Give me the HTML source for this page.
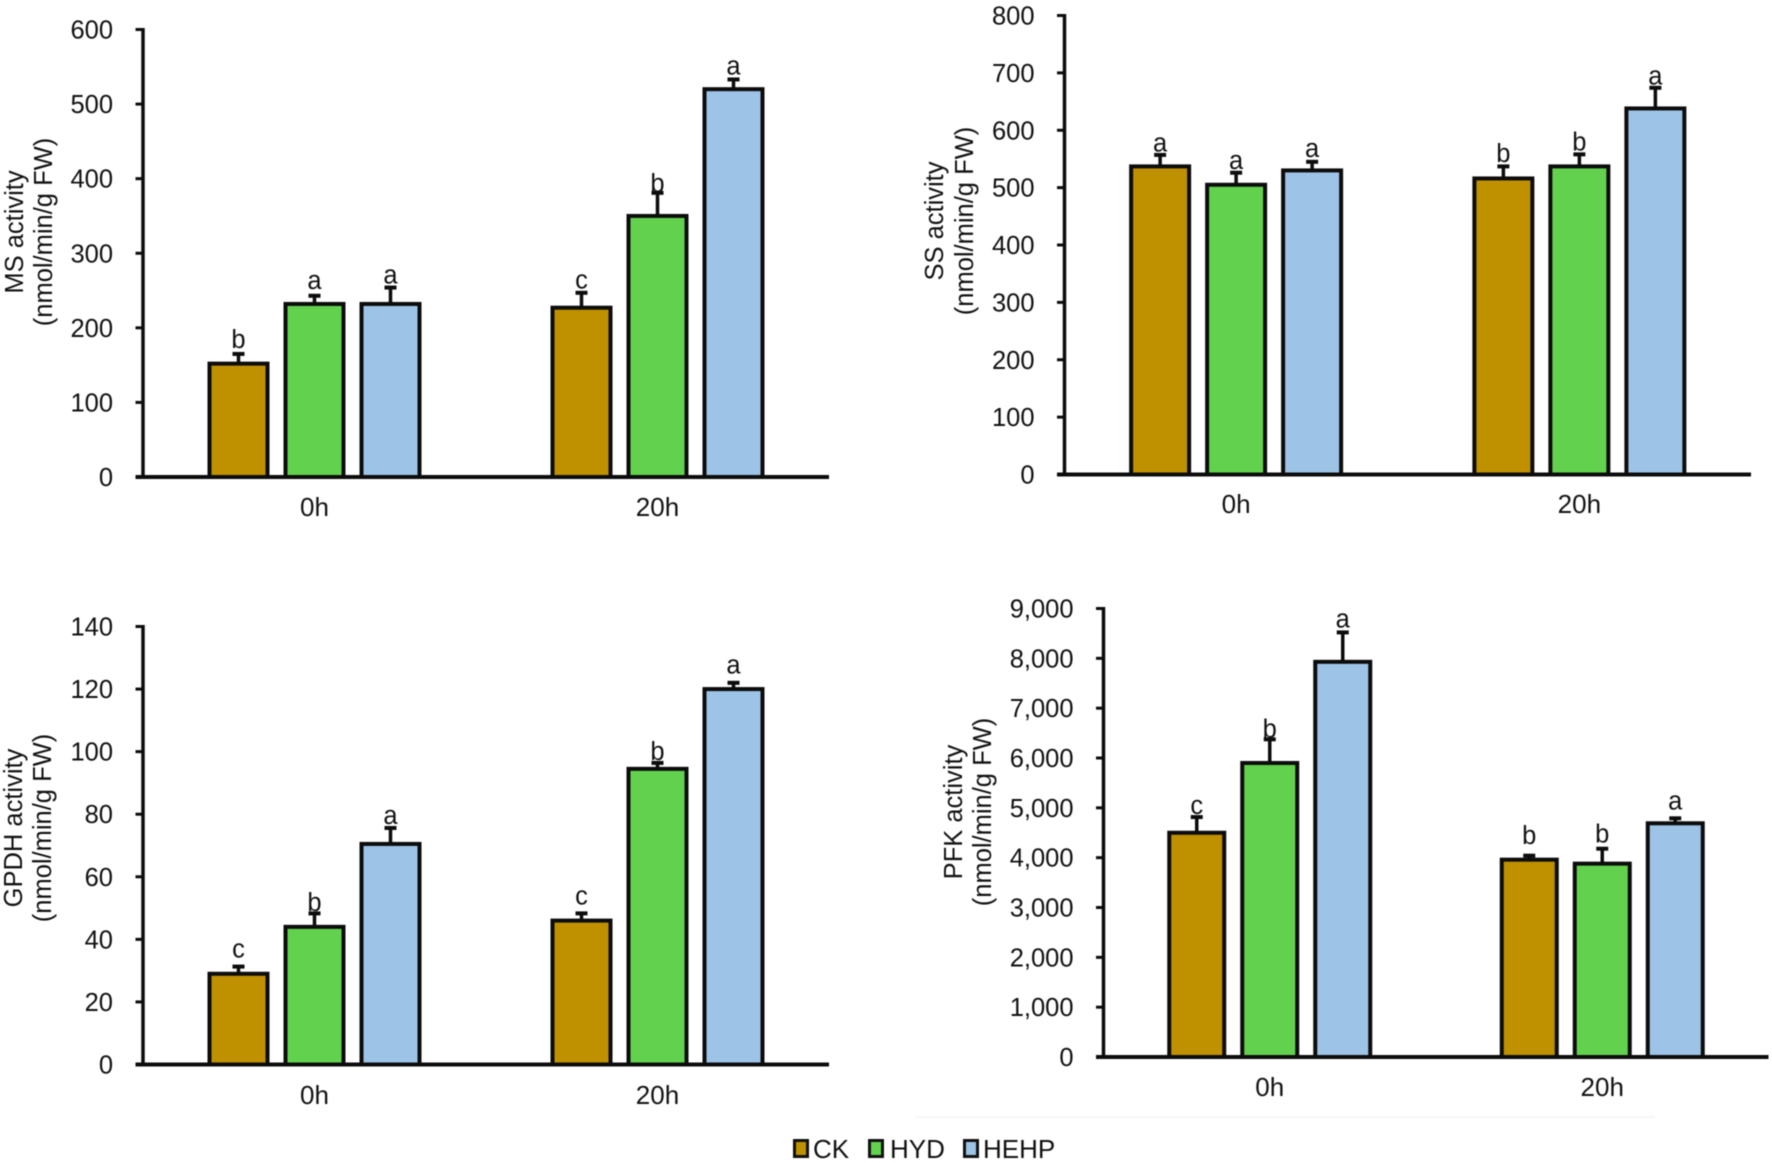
<!DOCTYPE html>
<html lang="en">
<head>
<meta charset="utf-8">
<title>Enzyme activity bar charts</title>
<style>
html,body{margin:0;padding:0;background:#fff;}
svg{display:block;filter:blur(0.4px);}
text{font-family:"Liberation Sans",Arial,sans-serif;fill:#111;}
</style>
</head>
<body>
<svg id="chart" width="1772" height="1163" viewBox="0 0 1772 1163" xmlns="http://www.w3.org/2000/svg">
  <rect x="0" y="0" width="1772" height="1163" fill="#fff"/>
  <line x1="915" x2="1655" y1="1117" y2="1117" stroke="#f6f6f6" stroke-width="2"/>
  <g id="panels"></g>
  <g>
    <g>
      <rect x="794.5" y="1140.5" width="13" height="16" fill="#BF9000" stroke="#111" stroke-width="3"/>
      <text x="813" y="1158" font-size="26">CK</text>
    </g>
    <g>
      <rect x="869.5" y="1140.5" width="13" height="16" fill="#62D24E" stroke="#111" stroke-width="3"/>
      <text x="890" y="1158" font-size="26">HYD</text>
    </g>
    <g>
      <rect x="964.5" y="1140.5" width="13" height="16" fill="#9DC3E6" stroke="#111" stroke-width="3"/>
      <text x="983" y="1158" font-size="26">HEHP</text>
    </g>
  </g>
</svg>
<script>
// Shared categories and series
const categories = ['0h', '20h'];
const seriesNames = ['CK', 'HYD', 'HEHP'];

// MS panel
const msTicks = [0, 100, 200, 300, 400, 500, 600];
const msMeans = [[152, 232, 232], [227, 350, 520]];
const msErrors = [[13, 11, 22], [20, 31, 13]];
const msLetters = [['b', 'a', 'a'], ['c', 'b', 'a']];

// SS panel
const ssTicks = [0, 100, 200, 300, 400, 500, 600, 700, 800];
const ssMeans = [[537, 505, 530], [516, 537, 638]];
const ssErrors = [[20, 21, 15], [21, 21, 36]];
const ssLetters = [['a', 'a', 'a'], ['b', 'b', 'a']];

// GPDH panel
const gpdhTicks = [0, 20, 40, 60, 80, 100, 120, 140];
const gpdhMeans = [[29, 44, 70.5], [46, 94.5, 120]];
const gpdhErrors = [[2.3, 4.3, 5.1], [2.3, 1.9, 2]];
const gpdhLetters = [['c', 'b', 'a'], ['c', 'b', 'a']];

// PFK panel
const pfkTicks = [0, 1000, 2000, 3000, 4000, 5000, 6000, 7000, 8000, 9000];
const pfkMeans = [[4500, 5900, 7930], [3960, 3880, 4690]];
const pfkErrors = [[315, 475, 590], [80, 300, 100]];
const pfkLetters = [['c', 'b', 'a'], ['b', 'b', 'a']];

// Layout (pixels), separate from the data above
const seriesFill = ['#BF9000', '#62D24E', '#9DC3E6'];
const INK = '#0c0c0c';
const panels = [
  {title: 'MS activity', ticks: msTicks, means: msMeans, errors: msErrors, letters: msLetters,
   left: 143, right: 829, y0: 477, yTop: 29.5, step: 76, barW: 58, catY: 516,
   titleX: [23, 52], titleY: 232, gaps: [[6, 7, 4], [4.5, 1, 5]]},
  {title: 'SS activity', ticks: ssTicks, means: ssMeans, errors: ssErrors, letters: ssLetters,
   left: 1064.5, right: 1751, y0: 474.5, yTop: 15.5, step: 76, barW: 58, catY: 513,
   titleX: [943, 973], titleY: 221, gaps: [[3.5, 3.5, 5], [4.5, 4, 3.5]]},
  {title: 'GPDH activity', ticks: gpdhTicks, means: gpdhMeans, errors: gpdhErrors, letters: gpdhLetters,
   left: 143, right: 829, y0: 1064.5, yTop: 626.5, step: 76, barW: 58, catY: 1104,
   titleX: [22, 51], titleY: 828, gaps: [[9, 2.5, 4], [9, 3, 9.5]]},
  {title: 'PFK activity', ticks: pfkTicks, means: pfkMeans, errors: pfkErrors, letters: pfkLetters,
   left: 1103.5, right: 1768.5, y0: 1057, yTop: 608.5, step: 73, barW: 55, catY: 1096,
   titleX: [962, 991], titleY: 812, gaps: [[3, 2, 5], [11.5, 6, 9]]}
];

const SVG_NS = 'http://www.w3.org/2000/svg';
function mk(tag, attrs, parent, txt) {
  const el = document.createElementNS(SVG_NS, tag);
  for (const k in attrs) el.setAttribute(k, attrs[k]);
  if (txt !== undefined) el.textContent = txt;
  parent.appendChild(el);
  return el;
}
function fmt(v) { return String(v).replace(/\B(?=(\d{3})+(?!\d))/g, ','); }

const root = document.getElementById('panels');
panels.forEach(function (p) {
  const maxTick = p.ticks[p.ticks.length - 1];
  const yScale = function (v) { return p.y0 - (v / maxTick) * (p.y0 - p.yTop); };
  const catW = (p.right - p.left) / categories.length;
  const catX = function (i) { return p.left + catW * (i + 0.5); };
  const barX = function (i, s) { return catX(i) + (s - (seriesNames.length - 1) / 2) * p.step; };

  const g = mk('g', {}, root);
  
  

  // y-axis title
  const t1 = mk('text', {transform: 'translate(' + p.titleX[0] + ',' + p.titleY + ') rotate(-90)', 'text-anchor': 'middle', 'font-size': 25.5}, g, p.title);
  
  
  const t2 = mk('text', {transform: 'translate(' + p.titleX[1] + ',' + p.titleY + ') rotate(-90)', 'text-anchor': 'middle', 'font-size': 25.5}, g, '(nmol/min/g FW)');
  
  

  // bars, error bars and letters
  categories.forEach(function (cat, i) {
    seriesNames.forEach(function (name, s) {
      const x = barX(i, s);
      const mean = p.means[i][s];
      const top = yScale(mean + p.errors[i][s]);
      const yMean = yScale(mean);

      const stem = mk('line', {x1: x, x2: x, y1: yMean, y2: top, stroke: INK, 'stroke-width': 3.5}, g);
      
      
      const cap = mk('line', {x1: x - 6, x2: x + 6, y1: top, y2: top, stroke: INK, 'stroke-width': 4}, g);
      
      

      const bar = mk('rect', {x: x - p.barW / 2, y: yMean, width: p.barW, height: p.y0 - yMean, fill: seriesFill[s], stroke: INK, 'stroke-width': 4}, g);
      
      

      const letter = mk('text', {x: x, y: top - p.gaps[i][s], 'text-anchor': 'middle', 'font-size': 25.5}, g, p.letters[i][s]);
      
      
    });

    const catLabel = mk('text', {x: catX(i), y: p.catY, 'text-anchor': 'middle', 'font-size': 26}, g, cat);
    
    
  });

  // y axis and ticks
  const yAxis = mk('line', {x1: p.left, x2: p.left, y1: p.yTop - 1.5, y2: p.y0, stroke: INK, 'stroke-width': 3.5}, g);
  
  
  p.ticks.forEach(function (v) {
    const y = yScale(v);
    const tick = mk('line', {x1: p.left - 7.5, x2: p.left, y1: y, y2: y, stroke: INK, 'stroke-width': 3}, g);
    
    
    const lab = mk('text', {x: p.left - 30, y: y + 9, 'text-anchor': 'end', 'font-size': 25.5}, g, fmt(v));
    
    
  });

  // x axis
  const xAxis = mk('line', {x1: p.left - 7.5, x2: p.right, y1: p.y0, y2: p.y0, stroke: INK, 'stroke-width': 4}, g);
  
  
});
</script>
</body>
</html>
